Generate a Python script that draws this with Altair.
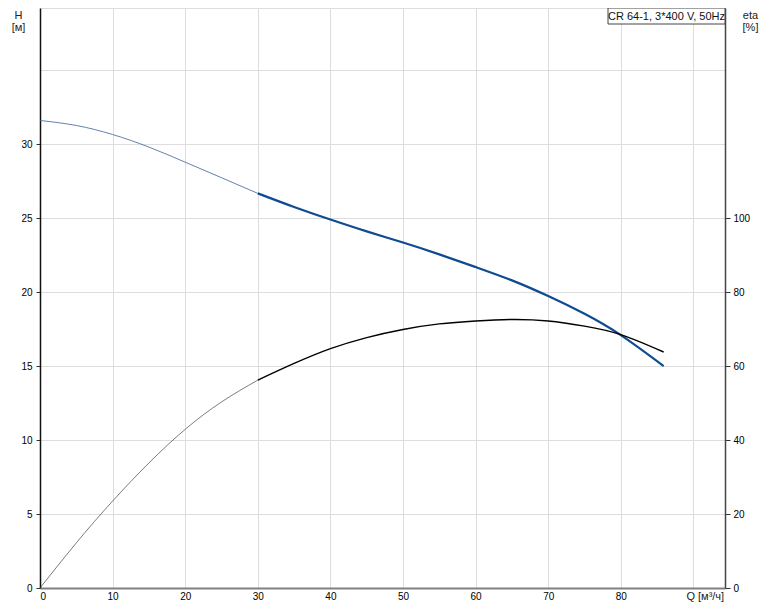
import altair as alt
import pandas as pd

# Data
Q = [0, 5, 10, 15, 20, 25, 30, 35, 40, 45, 50, 55, 60, 65, 70, 75, 80, 85.9]
H = [31.6, 31.26, 30.65, 29.8, 28.78, 27.73, 26.67, 25.75, 24.9, 24.1, 23.35,
     22.55, 21.69, 20.79, 19.73, 18.53, 17.09, 15.0]
ETA = [0, 12.2, 23.5, 33.8, 42.9, 50.3, 56.2, 60.7, 64.7, 67.7, 69.9, 71.4,
       72.2, 72.6, 72.2, 70.8, 68.5, 63.8]
Q_SPLIT = 30
X_TICKS = list(range(0, 95, 5))
H_TICKS = list(range(0, 40, 5))
ETA_TICKS = list(range(0, 160, 20))
TITLE = "CR 64-1, 3*400 V, 50Hz"
X_LABEL = "Q [м³/ч]"

W, HT = 685, 580
XMAX = 94.35
HMAX = 39.2
EMAX = HMAX * 4

df = pd.DataFrame({"Q": Q, "H": H, "eta": ETA})
thin = df[df.Q <= Q_SPLIT]
thick = df[df.Q >= Q_SPLIT]

FONT = "Liberation Sans"
INTERP = "natural"

x_enc = alt.X("Q:Q", scale=alt.Scale(domain=[0, XMAX], nice=False, zero=False),
              axis=alt.Axis(values=X_TICKS, title=None, grid=True,
                            labelExpr="datum.value >= 90 ? '' : datum.label",
                            tickSize=0, labelPadding=3, domainColor="#808080",
                            domainWidth=2))

h_axis = alt.Axis(values=H_TICKS, title=["H", "[м]"], titleAngle=0,
                  titleX=-22, titleY=1, titleAlign="center", titleBaseline="top",
                  titleFontWeight="normal", titleFontSize=11, titleFont=FONT,
                  titleLineHeight=12, titleColor="#222",
                  labelExpr="datum.value > 30 ? '' : datum.label",
                  tickColor={"condition": {"test": "datum.value > 30", "value": "transparent"},
                             "value": "#333"},
                  tickSize=4, labelPadding=4, domainColor="#111", domainWidth=1.5,
                  grid=True)
eta_axis = alt.Axis(values=ETA_TICKS, orient="right", title=["eta", "[%]"],
                    titleAngle=0, titleX=25, titleY=1, titleAlign="center",
                    titleBaseline="top", titleFontWeight="normal", titleFontSize=11,
                    titleFont=FONT, titleLineHeight=12, titleColor="#222",
                    labelExpr="datum.value > 100 ? '' : datum.label",
                    tickColor={"condition": {"test": "datum.value > 100", "value": "transparent"},
                               "value": "#333"},
                    tickSize=5, labelPadding=3, domainColor="#444", domainWidth=1.5,
                    grid=False)

h_y = alt.Y("H:Q", scale=alt.Scale(domain=[0, HMAX], nice=False), axis=h_axis)
e_y = alt.Y("eta:Q", scale=alt.Scale(domain=[0, EMAX], nice=False), axis=eta_axis)

BLUE = "#0e4b90"

h_thin = alt.Chart(thin).mark_line(interpolate=INTERP, color="#3a6296",
                                   strokeWidth=0.8).encode(x=x_enc, y=h_y)
h_thick = alt.Chart(thick).mark_line(interpolate=INTERP, color=BLUE,
                                     strokeWidth=2.2).encode(x=x_enc, y=h_y)
e_thin = alt.Chart(thin).mark_line(interpolate=INTERP, color="#444",
                                   strokeWidth=0.7).encode(x=x_enc, y=e_y)
e_thick = alt.Chart(thick).mark_line(interpolate=INTERP, color="#000",
                                     strokeWidth=1.4).encode(x=x_enc, y=e_y)

one = pd.DataFrame({"t": [TITLE], "q": [X_LABEL]})
box = alt.Chart(one).mark_rect(fill="white", stroke="#444", strokeWidth=1).encode(
    x=alt.value(568), x2=alt.value(W), y=alt.value(0), y2=alt.value(16))
box_text = alt.Chart(one).mark_text(font=FONT, fontSize=11, color="#111",
                                    align="center", baseline="middle").encode(
    x=alt.value(626.5), y=alt.value(8.5), text="t:N")
q_text = alt.Chart(one).mark_text(font=FONT, fontSize=11, color="#222",
                                  align="left", baseline="top", dx=-7).encode(
    x=alt.datum(90), y=alt.value(HT + 3), text="q:N")

left = alt.layer(h_thin, h_thick, box, box_text, q_text)
right = alt.layer(e_thin, e_thick)

chart = alt.layer(left, right).resolve_scale(y="independent").properties(
    width=W, height=HT,
    autosize=alt.AutoSizeParams(type="none"),
    padding={"left": 32, "top": 0, "right": 40, "bottom": 15},
).configure_view(stroke="#a0a0a0", strokeWidth=1).configure_axis(
    labelFont=FONT, labelFontSize=11, labelColor="#111",
    gridColor="#d2d2d2", gridWidth=1.5,
).configure(background="white")

chart.save("out.html", embed_options={"renderer": "svg", "actions": False})
